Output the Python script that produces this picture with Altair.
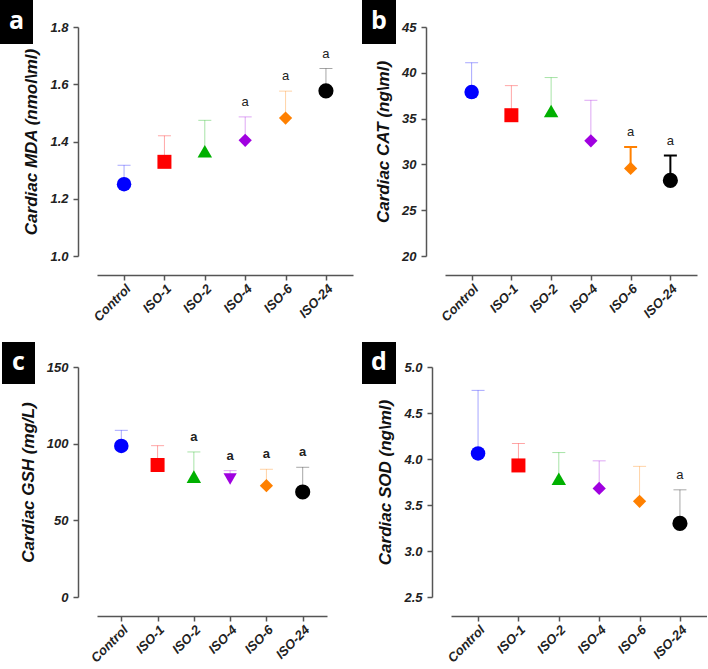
import altair as alt
import pandas as pd

groups = ["Control", "ISO-1", "ISO-2", "ISO-4", "ISO-6", "ISO-24"]
colors = ["#0000FF", "#FF0000", "#00B000", "#A000E0", "#FF8000", "#000000"]
shapes_std = ["circle", "square", "triangle-up", "diamond", "diamond", "circle"]
shapes_gsh = ["circle", "square", "triangle-up", "triangle-down", "diamond", "circle"]
sizes = [210, 196, 210, 175, 175, 230]

mda_mean = [1.251, 1.329, 1.366, 1.404, 1.482, 1.577]
mda_upper = [1.317, 1.420, 1.474, 1.486, 1.576, 1.655]
mda_sig = ["", "", "", "a", "a", "a"]

cat_mean = [37.9, 35.37, 35.84, 32.57, 29.56, 28.25]
cat_upper = [41.1, 38.6, 39.48, 37.0, 31.9, 30.97]
cat_sig = ["", "", "", "", "a", "a"]
cat_strong = [False, False, False, False, True, True]

gsh_mean = [98.5, 86.1, 78.5, 77.0, 72.6, 68.5]
gsh_upper = [108.7, 98.7, 94.6, 82.4, 83.3, 84.6]
gsh_sig = ["", "", "a", "a", "a", "a"]

sod_mean = [4.06, 3.93, 3.786, 3.68, 3.54, 3.30]
sod_upper = [4.746, 4.168, 4.07, 3.98, 3.92, 3.665]
sod_sig = ["", "", "", "", "", "a"]

FONT = "Liberation Sans"


def panel(means, uppers, sig, shapes, strong, ylabel, domain, ticks, fmt,
          width, height, letter, box, sigbold):
    df = pd.DataFrame({
        "group": groups, "mean": means, "upper": uppers, "sig": sig,
        "color": colors, "shape": shapes, "size": sizes, "strong": strong,
    })
    xenc = alt.X("group:N", sort=groups,
                 scale=alt.Scale(type="point", padding=0.67),
                 axis=alt.Axis(title=None, labelAngle=315, offset=19,
                               labelPadding=2, labelAlign="right",
                               labelBaseline="top"))
    yscale = alt.Scale(domain=domain, nice=False, zero=False)
    yaxis = alt.Axis(title=ylabel, values=ticks, format=fmt, offset=19,
                     titlePadding=9, labelPadding=5)

    def yenc(field):
        return alt.Y(field + ":Q", scale=yscale, axis=yaxis)

    base = alt.Chart(df)
    layers = []
    for flag, op, sw in [(False, 0.35, 1), (True, 1.0, 2)]:
        sub = base.transform_filter(alt.datum.strong == flag)
        layers.append(sub.mark_rule(opacity=op, strokeWidth=sw).encode(
            x=xenc, y=yenc("mean"), y2="upper:Q",
            color=alt.Color("color:N", scale=None)))
        layers.append(sub.mark_tick(opacity=op, thickness=sw, size=13).encode(
            x=xenc, y=yenc("upper"),
            color=alt.Color("color:N", scale=None)))
    layers.append(base.mark_point(filled=True, opacity=1).encode(
        x=xenc, y=yenc("mean"),
        color=alt.Color("color:N", scale=None),
        shape=alt.Shape("shape:N", scale=None),
        size=alt.Size("size:Q", scale=None)))
    layers.append(base.mark_text(dy=-11, fontSize=13, font=FONT,
                                 fontWeight="bold" if sigbold else "normal",
                                 baseline="alphabetic", color="#222").encode(
        x=xenc, y=yenc("upper"), text="sig:N"))
    lab = alt.Chart(pd.DataFrame({"lab": [letter]}))
    x1, x2, y1, y2 = box
    layers.append(lab.mark_rect(color="black").encode(
        x=alt.value(x1), x2=alt.value(x2), y=alt.value(y1), y2=alt.value(y2)))
    layers.append(lab.mark_text(color="white", font="Open Sans",
                                fontWeight="bold", fontSize=25,
                                baseline="middle", align="center").encode(
        x=alt.value((x1 + x2) / 2), y=alt.value((y1 + y2) / 2 - 1),
        text="lab:N"))
    return alt.layer(*layers).properties(width=width, height=height)


pa = panel(mda_mean, mda_upper, mda_sig, shapes_std, [False] * 6,
           "Cardiac MDA (nmol\\ml)", [1.0, 1.8], [1.0, 1.2, 1.4, 1.6, 1.8],
           ".1f", 256, 229, "a", (-97, -64, -27, 17), False)
pb = panel(cat_mean, cat_upper, cat_sig, shapes_std, cat_strong,
           "Cardiac CAT (ng\\ml)", [20, 45], [20, 25, 30, 35, 40, 45],
           "d", 252, 229, "b", (-83, -49, -27, 17), False)
pc = panel(gsh_mean, gsh_upper, gsh_sig, shapes_gsh, [False] * 6,
           "Cardiac GSH (mg/L)", [0, 150], [0, 50, 100, 150],
           "d", 230, 230, "c", (-95, -62, -25, 17), True)
pd_ = panel(sod_mean, sod_upper, sod_sig, shapes_std, [False] * 6,
            "Cardiac SOD (ng\\ml)", [2.5, 5.0], [2.5, 3.0, 3.5, 4.0, 4.5, 5.0],
            ".1f", 256, 230, "d", (-89, -55, -25, 17), False)

top = alt.hconcat(pa, pb, spacing=92, bounds="flush")
bottom = alt.hconcat(pc, pd_, spacing=124, bounds="flush")
chart = alt.vconcat(top, bottom, spacing=340, bounds="flush").properties(
    padding=0, background="white"
).configure_axis(
    domainColor="#555", domainWidth=1.5, tickColor="#555", tickWidth=1.5,
    tickSize=5, grid=False,
    labelFont=FONT, labelFontWeight="bold", labelFontStyle="italic",
    labelFontSize=13, labelColor="#222",
    titleFont=FONT, titleFontWeight="bold", titleFontStyle="italic",
    titleFontSize=17, titleColor="#111",
).configure_view(stroke=None)

chart.save("out.html", embed_options={"renderer": "svg", "actions": False})
